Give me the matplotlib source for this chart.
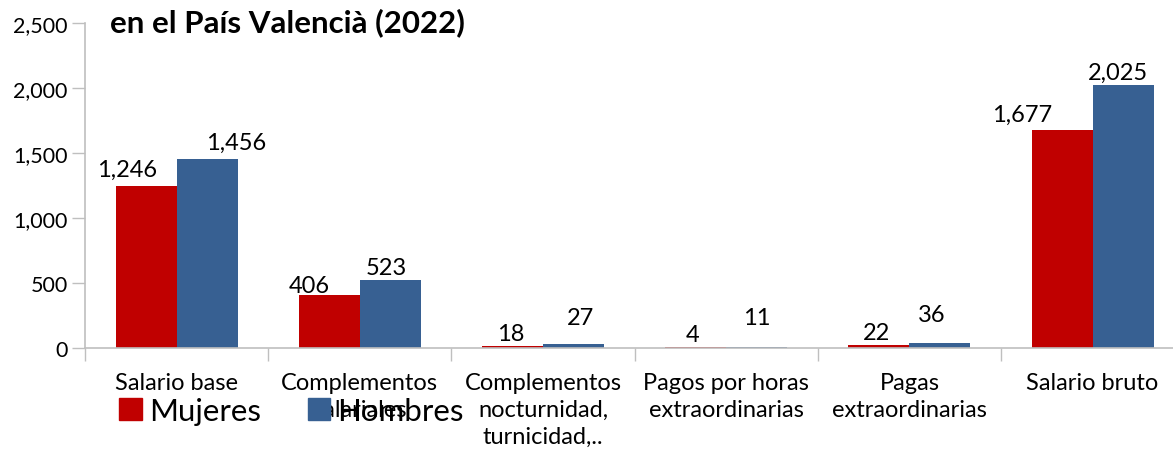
import matplotlib
matplotlib.use("Agg")
import matplotlib.pyplot as plt
import numpy as np
from matplotlib.patches import Patch
from matplotlib.ticker import FuncFormatter, FixedLocator

plt.rcParams['font.family'] = ['Lato', 'DejaVu Sans']

categories = ["Salario base", "Complementos\nsalariales", "Complementos\nnocturnidad,\nturnicidad,..",
              "Pagos por horas\nextraordinarias", "Pagas\nextraordinarias", "Salario bruto"]
mujeres = [1246, 406, 18, 4, 22, 1677]
hombres = [1456, 523, 27, 11, 36, 2025]
series_names = ["Mujeres", "Hombres"]
title = "en el País Valencià (2022)"

# label nudges in pixels (dx, gap above bar) - style only
muj_off = [(-19, 10), (-20, 3), (-2, 6), (-3, 6), (-2, 6), (-40, 9)]
hom_off = [(29, 10), (-4, 6), (7, 20), (0, 23), (-8, 22), (-5, 6)]

RED = "#C00000"
BLUE = "#376092"
GRAY = "#BFBFBF"

W, H = 1173, 456
fig = plt.figure(figsize=(W / 100, H / 100), dpi=100)
ax_left, ax_right = 85, 1173
ax_bottom, ax_top = 349, 24
ax = fig.add_axes([ax_left / W, 1 - ax_bottom / H, (ax_right - ax_left) / W, (ax_bottom - ax_top) / H])

catw = 183.2
x = np.arange(len(categories))
bw = 0.333
b1 = ax.bar(x - bw / 2, mujeres, bw, color=RED, label=series_names[0])
b2 = ax.bar(x + bw / 2, hombres, bw, color=BLUE, label=series_names[1])

ax.set_xlim(-0.5, -0.5 + (ax_right - ax_left) / catw)
ax.set_ylim(0, 2500)

px2pt = 0.72
for bars, vals, offs in ((b1, mujeres, muj_off), (b2, hombres, hom_off)):
    for b, v, (dx, dy) in zip(bars, vals, offs):
        ax.annotate(f"{v:,}", (b.get_x() + b.get_width() / 2, v),
                    xytext=(dx * px2pt, (dy - 4) * px2pt), textcoords="offset points",
                    ha="center", va="bottom", fontsize=17, color="black")

for s in ("top", "right"):
    ax.spines[s].set_visible(False)
for s in ("left", "bottom"):
    ax.spines[s].set_color(GRAY)
    ax.spines[s].set_linewidth(1.2)

ax.set_yticks([0, 500, 1000, 1500, 2000, 2500])
ax.yaxis.set_major_formatter(FuncFormatter(lambda v, p: f"{int(v):,}"))
ax.tick_params(axis="y", length=9.4, width=1.0, color=GRAY, labelsize=15.5, pad=3)

ax.set_xticks(x)
ax.set_xticklabels(categories, fontsize=17, linespacing=1.36)
ax.tick_params(axis="x", which="major", length=0, pad=17)
ax.xaxis.set_minor_locator(FixedLocator(np.arange(-0.5, len(categories), 1.0)))
ax.tick_params(axis="x", which="minor", length=9.4, width=1.0, color=GRAY)

fig.text(110 / W, 1 - 23 / H, title, fontsize=22.5, fontweight="bold", va="center", ha="left")

handles = [Patch(color=RED), Patch(color=BLUE)]
fig.legend(handles, series_names, loc="center left", bbox_to_anchor=(119 / W, 1 - 412 / H),
           ncol=2, frameon=False, fontsize=22.5, handlelength=0.73, handleheight=0.73,
           handletextpad=0.22, columnspacing=1.5, borderpad=0, borderaxespad=0)

fig.savefig("out.png", dpi=100)
